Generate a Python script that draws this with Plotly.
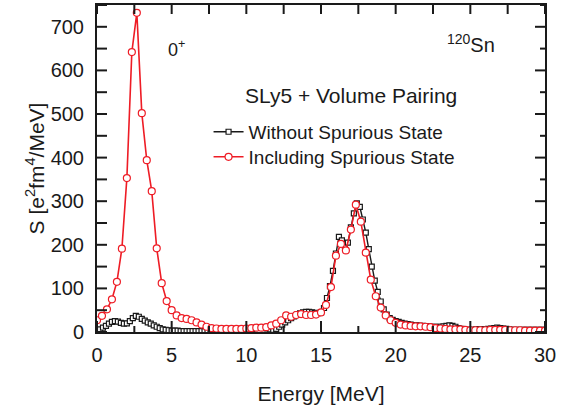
import plotly.graph_objects as go

# Energy grids (MeV)
energy_without = [round(i * 0.2, 1) for i in range(151)]
energy_including = [round(i / 3, 3) for i in range(91)]

# S [e^2 fm^4 / MeV], without spurious state (0.2 MeV steps)
s_without = [
    3, 6, 10, 14, 19,
    23, 25, 24, 21, 19,
    20, 25, 32, 37, 35,
    30, 26, 22, 19, 15,
    12, 9, 6, 5, 4,
    3, 3, 3, 2, 2,
    2, 2, 2, 2, 2,
    2, 2, 2, 2, 2,
    2, 2, 2, 2, 2,
    2, 2, 2, 2, 2,
    3, 5, 7, 9, 10,
    10, 9, 8, 6, 5,
    7, 12, 17, 22, 27,
    32, 36, 40, 43, 45,
    46, 46, 45, 44, 43,
    45, 55, 78, 105, 140,
    180, 218, 210, 198, 205,
    240, 272, 295, 287, 258,
    228, 190, 150, 118, 92,
    70, 52, 40, 32, 28,
    25, 23, 21, 19, 18,
    17, 16, 15, 14, 14,
    13, 13, 12, 12, 12,
    12, 13, 14, 15, 14,
    12, 9, 7, 5, 5,
    5, 5, 6, 6, 6,
    6, 7, 8, 9, 10,
    9, 8, 7, 6, 5,
    5, 5, 5, 5, 5,
    5, 5, 5, 5, 5,
    5,
]

# S including spurious state (1/3 MeV steps)
s_including = [
    27, 37, 52,
    75, 115, 191,
    353, 642, 732,
    502, 394, 323,
    192, 112, 71,
    50, 38, 32,
    30, 27, 22,
    17, 12, 9,
    8, 7, 7,
    7, 7, 7,
    8, 9, 10,
    10, 11, 15,
    19, 27, 38,
    35, 39, 41,
    39, 39, 40,
    45, 62, 103,
    175, 202, 187,
    235, 292, 253,
    182, 120, 82,
    56, 38, 27,
    21, 17, 15,
    14, 13, 13,
    12, 11, 9,
    8, 7, 6,
    6, 6, 5,
    4, 4, 4,
    4, 5, 5,
    5, 5, 4,
    4, 4, 3,
    3, 3, 3,
    3,
]

X_RANGE = [0, 30]
Y_RANGE = [0, 750]
x_major = [0, 5, 10, 15, 20, 25, 30]
x_minor = [2.5, 7.5, 12.5, 17.5, 22.5, 27.5]
y_major = [0, 100, 200, 300, 400, 500, 600, 700]
y_minor = [50, 150, 250, 350, 450, 550, 650, 750]

FONT = "Arial, Liberation Sans, sans-serif"
INK = "#1a1a1a"
RED = "#ee1c25"

W, H = 577, 411
M = dict(l=97, r=32, t=5, b=79)
PLOT_W = W - M["l"] - M["r"]
PLOT_H = H - M["t"] - M["b"]

fig = go.Figure()
fig.add_trace(go.Scatter(
    x=energy_without, y=s_without, mode="lines+markers",
    name="Without Spurious State", legend="legend",
    line=dict(color=INK, width=1.4),
    marker=dict(symbol="square", size=5, color="white",
                line=dict(color=INK, width=1.2)),
))
fig.add_trace(go.Scatter(
    x=energy_including, y=s_including, mode="lines+markers",
    name="Including Spurious State", legend="legend2",
    line=dict(color=RED, width=1.6),
    marker=dict(symbol="circle", size=7, color="white",
                line=dict(color=RED, width=1.2)),
))

fig.update_layout(
    template="none",
    xaxis=dict(
        range=X_RANGE, tickmode="array", tickvals=x_major, ticks="",
        showgrid=False, zeroline=False, mirror=True,
        showline=True, linecolor=INK, linewidth=2, automargin=False,
        tickfont=dict(family=FONT, size=20, color=INK), ticklabelstandoff=4,
        title=dict(text="Energy [MeV]", font=dict(family=FONT, size=21, color=INK), standoff=21),
    ),
    yaxis=dict(
        range=Y_RANGE, tickmode="array", tickvals=y_major, ticks="",
        showgrid=False, zeroline=False, mirror=True,
        showline=True, linecolor=INK, linewidth=2, automargin=False,
        tickfont=dict(family=FONT, size=20, color=INK), ticklabelstandoff=7,
        title=dict(text="S [e<sup>2</sup>fm<sup>4</sup>/MeV]",
                   font=dict(family=FONT, size=21, color=INK), standoff=0),
    ),
)

# inside tick marks on all four sides (lengths in px converted to plot fractions)
tick_line = dict(color=INK, width=2)


def xtick(v, length_px, top=False):
    f = length_px / PLOT_H
    y0, y1 = (1, 1 - f) if top else (0, f)
    fig.add_shape(type="line", xref="x", yref="paper", x0=v, x1=v, y0=y0, y1=y1,
                  line=tick_line, layer="above")


def ytick(v, length_px, right=False):
    f = length_px / PLOT_W
    x0, x1 = (1, 1 - f) if right else (0, f)
    fig.add_shape(type="line", xref="paper", yref="y", x0=x0, x1=x1, y0=v, y1=v,
                  line=tick_line, layer="above")


for v in x_major:
    xtick(v, 11)
    xtick(v, 9, top=True)
for v in x_minor:
    xtick(v, 6)
    xtick(v, 9, top=True)
for v in y_major:
    ytick(v, 10)
    ytick(v, 10, right=True)
for v in y_minor:
    ytick(v, 10)
    ytick(v, 5, right=True)

fig.add_annotation(x=4.6, y=650, xref="x", yref="y", text="0<sup>+</sup>",
                   showarrow=False, xanchor="left", yanchor="middle",
                   font=dict(family=FONT, size=18, color=INK))
fig.add_annotation(x=26.8, y=662, xref="x", yref="y", text="<sup>120</sup>Sn",
                   showarrow=False, xanchor="right", yanchor="middle",
                   font=dict(family=FONT, size=20, color=INK))
fig.add_annotation(x=0.567, y=0.722, xref="paper", yref="paper",
                   text="SLy5 + Volume Pairing", showarrow=False,
                   xanchor="center", yanchor="middle",
                   font=dict(family=FONT, size=21, color=INK))

legend_common = dict(
    xanchor="left", yanchor="top", bgcolor="rgba(0,0,0,0)", borderwidth=0,
    font=dict(family=FONT, size=19, color=INK), itemwidth=30,
)
fig.update_layout(
    width=W, height=H,
    margin=dict(**M, autoexpand=False),
    paper_bgcolor="white", plot_bgcolor="white",
    showlegend=True,
    legend=dict(x=0.249, y=0.67, **legend_common),
    legend2=dict(x=0.249, y=0.5935, **legend_common),
)

fig.write_html("out.html", config={"displayModeBar": False},
               post_script="document.body.style.margin='0';")
